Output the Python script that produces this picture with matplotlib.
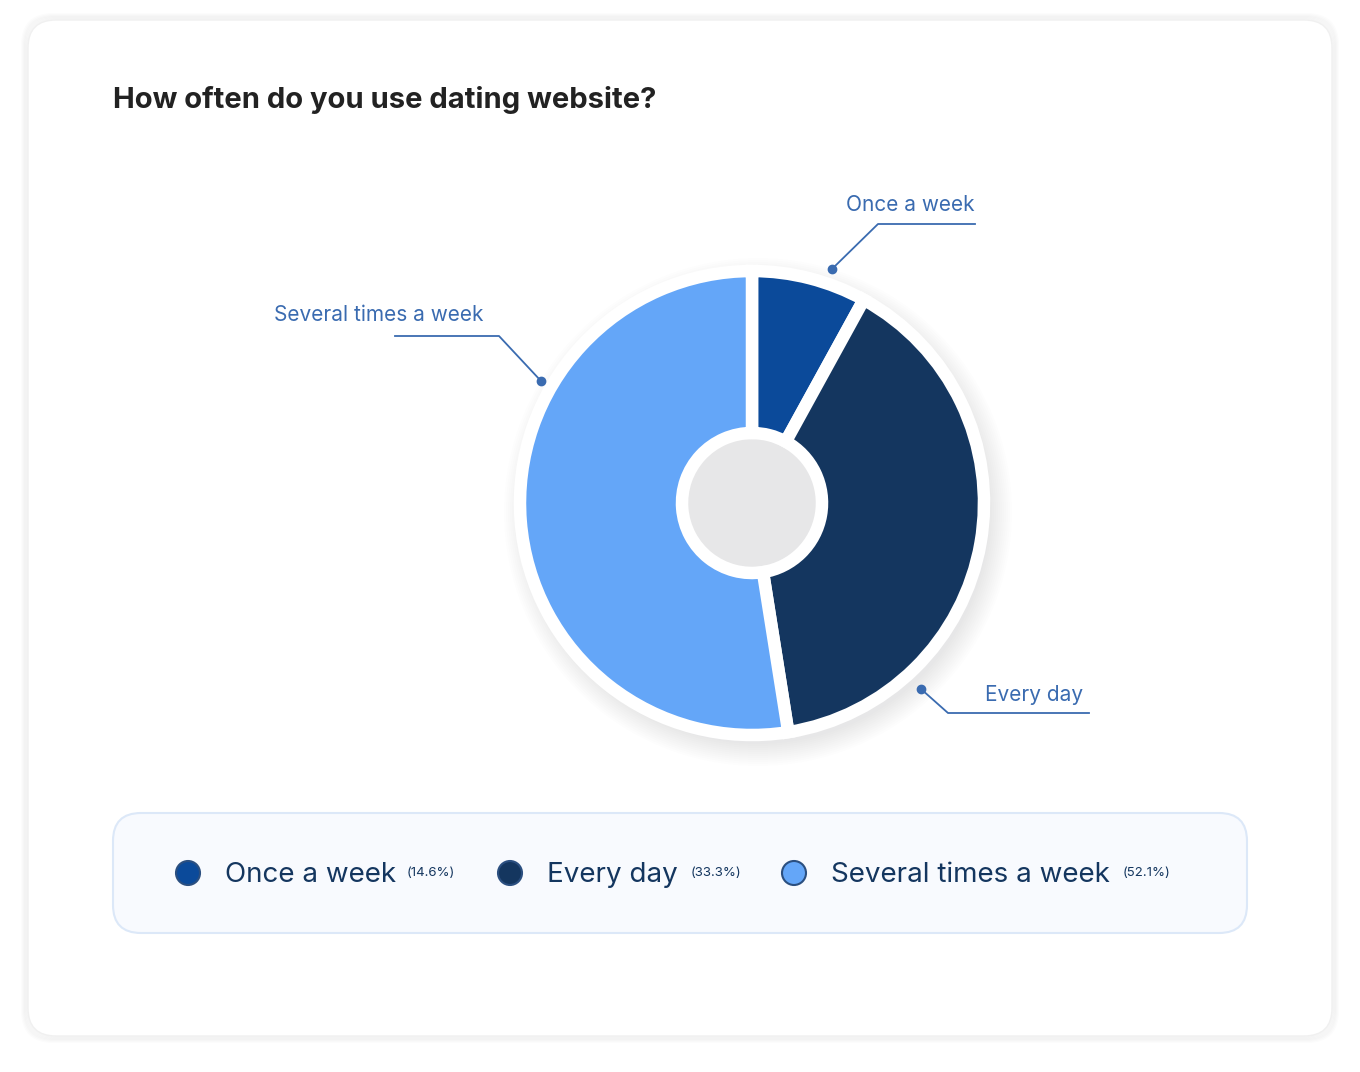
import matplotlib
matplotlib.use("Agg")
import matplotlib.pyplot as plt
from matplotlib.patches import FancyBboxPatch, Circle

plt.rcParams['font.family'] = ['Inter', 'DejaVu Sans']

categories = ["Once a week", "Every day", "Several times a week"]
legend_pct = ["(14.6%)", "(33.3%)", "(52.1%)"]
# slice sizes as drawn in the picture
slice_share = [8.0, 39.5, 52.5]
colors = ["#0B4A9A", "#14365F", "#64A6F8"]

H = 1072
fig = plt.figure(figsize=(13.6, 10.72), dpi=100)
ax = fig.add_axes([0, 0, 1, 1])

def Y(y):
    return H - y

# card
for i in range(6):
    ax.add_patch(FancyBboxPatch((28 - i, Y(1036) - i), 1304 + 2 * i, 1016 + 2 * i,
                                boxstyle="round,pad=0,rounding_size=30",
                                fc="none", ec="#000000", alpha=0.012, lw=3, zorder=0))
ax.add_patch(FancyBboxPatch((28, Y(1036)), 1304, 1016, boxstyle="round,pad=0,rounding_size=28",
                            fc="white", ec="#F0F0F0", lw=1, zorder=1))

# donut shadow
for i in range(12):
    ax.add_patch(Circle((758, Y(512)), 232 + i * 2, fc="#1E3A6A", alpha=0.008, ec="none", zorder=2))

ax.pie(slice_share, colors=colors, startangle=90, counterclock=False,
       center=(752, Y(503)), radius=232,
       wedgeprops=dict(width=162, edgecolor="white", linewidth=9), frame=True)
for w in ax.patches[-3:]:
    w.set_zorder(3)

# callouts: dot, elbow, end of line, text position
callouts = [
    ("Once a week", (832, 269), (878, 224), (975, 224), (975, 205), "right"),
    ("Several times a week", (541, 381), (499, 336), (395, 336), (483, 315), "right"),
    ("Every day", (921, 689), (948, 713), (1089, 713), (1083, 695), "right"),
]
for txt, d, e, f, t, ha in callouts:
    ax.plot([d[0], e[0], f[0]], [Y(d[1]), Y(e[1]), Y(f[1])], color="#3A6BB0", lw=1.3, zorder=4)
    ax.plot(d[0], Y(d[1]), "o", color="#3A6BB0", ms=6, zorder=4)
    ax.text(t[0], Y(t[1]), txt, color="#3A6BB0", fontsize=15, ha=ha, va="center", zorder=4)

ax.text(113, Y(100), "How often do you use dating website?", fontsize=21, fontweight="bold",
        color="#222222", va="center", ha="left", zorder=4)

# legend box
ax.add_patch(FancyBboxPatch((113, Y(933)), 1134, 120, boxstyle="round,pad=0,rounding_size=28",
                            fc="#F8FAFE", ec="#DCE8F8", lw=1.5, zorder=2))
leg_x = [188, 510, 794]
txt_x = [225, 547, 831]
pct_x = [407, 691, 1123]
for i in range(3):
    ax.add_patch(Circle((leg_x[i], Y(873)), 12, fc=colors[i], ec="#2B4F80", lw=1.5, zorder=4))
    ax.text(txt_x[i], Y(875), categories[i], fontsize=20, color="#14365F", va="center", zorder=4)
    ax.text(pct_x[i], Y(873), legend_pct[i], fontsize=9.5, color="#14365F", va="center", zorder=4)

ax.set_xlim(0, 1360)
ax.set_ylim(0, H)
ax.set_aspect("auto")
ax.axis("off")
fig.savefig("out.png", dpi=100, facecolor="white")
